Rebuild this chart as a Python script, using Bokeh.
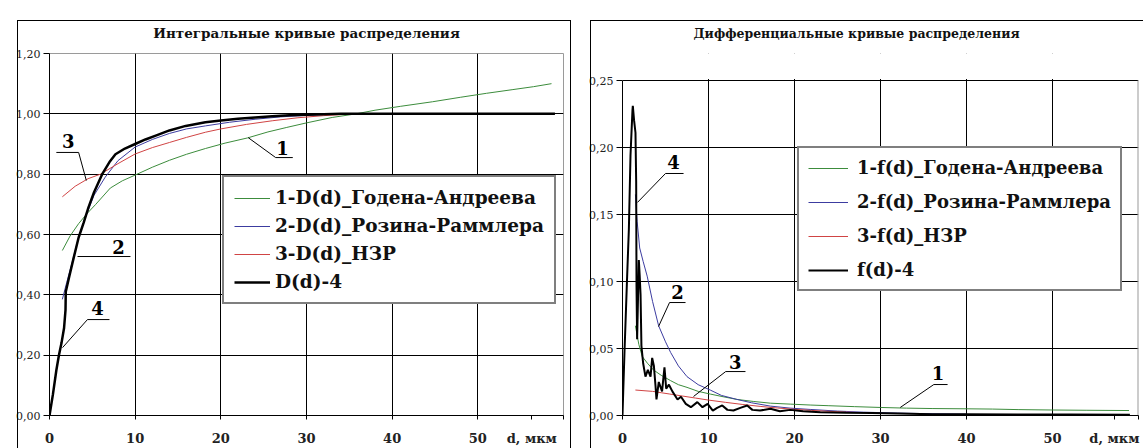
from bokeh.plotting import figure
from bokeh.models import Legend, LegendItem, BoxAnnotation, FixedTicker, Range1d, Div
from bokeh.layouts import row
from bokeh.embed import file_html
from bokeh.resources import INLINE
from bokeh.core.properties import value

# ---------------- texts / ticks ----------------
TITLE_L = "Интегральные кривые распределения"
TITLE_R = "Дифференциальные кривые распределения"
X_LABEL = "d, мкм"

xl_ticks = [0, 10, 20, 30, 40, 50, 56.3, 60]
xr_ticks = [0, 10, 20, 30, 40, 50, 57.2, 60]
x_tick_labels = ["0", "10", "20", "30", "40", "50", X_LABEL, ""]
x_grid = [10, 20, 30, 40, 50]

yl_ticks = [0.0, 0.2, 0.4, 0.6, 0.8, 1.0, 1.2]
yl_tick_labels = ["0,00", "0,20", "0,40", "0,60", "0,80", "1,00", "1,20"]
yr_ticks = [0.0, 0.05, 0.1, 0.15, 0.2, 0.25]
yr_tick_labels = ["0,00", "0,05", "0,10", "0,15", "0,20", "0,25"]

names_L = ["1-D(d)_Годена-Андреева", "2-D(d)_Розина-Раммлера", "3-D(d)_НЗР", "D(d)-4"]
names_R = ["1-f(d)_Годена-Андреева", "2-f(d)_Розина-Раммлера", "3-f(d)_НЗР", "f(d)-4"]

# ---------------- integral curves D(d) ----------------
D1_x = [1.5, 2.4, 3.4, 4.4, 5.4, 7.1, 8.5, 10, 12, 14, 16, 18.2, 20.5, 23.1, 25.5, 27.7, 30, 33,
        35.8, 38, 41, 44.7, 48, 51, 54, 56.5, 58.6]
D1_y = [0.547, 0.595, 0.636, 0.67, 0.70, 0.754, 0.778, 0.797, 0.823, 0.846, 0.866, 0.885, 0.903,
        0.92, 0.94, 0.955, 0.97, 0.988, 1.0, 1.012, 1.025, 1.04, 1.055, 1.068, 1.08, 1.09, 1.10]

D2_x = [1.5, 2.0, 2.6, 3.3, 4.2, 5.2, 6.5, 8, 10, 12, 14, 16, 18.2, 21, 24, 27, 30, 33, 36, 40]
D2_y = [0.385, 0.44, 0.503, 0.58, 0.657, 0.73, 0.79, 0.845, 0.89, 0.915, 0.935, 0.95, 0.96,
        0.972, 0.982, 0.99, 0.995, 0.998, 1.0, 1.0]

D3_x = [1.5, 3, 4.5, 5.95, 8, 10, 12, 14, 16, 18.2, 20, 23, 26, 29, 32, 35, 38]
D3_y = [0.725, 0.76, 0.785, 0.80, 0.835, 0.867, 0.888, 0.905, 0.922, 0.939, 0.95, 0.965, 0.977,
        0.987, 0.994, 0.999, 1.0]

D4_x = [0, 0.4, 0.8, 1.1, 1.4, 1.7, 1.87, 1.9, 2.3, 2.8, 3.4, 4.0, 4.55, 5.2, 6.15, 7.0, 7.7, 8.8,
        10, 11.2, 12.4, 14, 15.9, 18.2, 20, 22, 24, 26, 28, 30, 32, 34, 40, 50, 59]
D4_y = [0, 0.07, 0.15, 0.2, 0.24, 0.29, 0.35, 0.41, 0.46, 0.52, 0.59, 0.64, 0.69, 0.74, 0.80, 0.84,
        0.866, 0.885, 0.90, 0.915, 0.928, 0.945, 0.96, 0.972, 0.978, 0.984, 0.988, 0.992, 0.995,
        0.997, 0.999, 1.0, 1.0, 1.0, 1.0]

# ---------------- differential curves f(d) ----------------
F1_x = [1.5, 1.9, 2.3, 2.9, 3.6, 4.5, 5.6, 6.5, 7.5, 8.8, 10.2, 11.7, 13.3, 15.2, 17.2, 19.5, 21.9,
        24, 27, 30, 33, 36, 40, 43, 46, 50, 54, 58.9]
F1_y = [0.067, 0.053, 0.044, 0.039, 0.034, 0.030, 0.026, 0.023, 0.021, 0.018, 0.016, 0.014, 0.012,
        0.0105, 0.0092, 0.0085, 0.0078, 0.0073, 0.0066, 0.006, 0.0055, 0.0052, 0.005, 0.0048,
        0.0044, 0.0041, 0.0039, 0.0037]

F2_x = [1.5, 1.7, 2.0, 2.4, 2.87, 3.5, 4.2, 5.0, 5.6, 6.5, 7.5, 8.8, 10.2, 11.5, 13.3, 15, 17.2,
        19.5, 21.9, 25, 28, 32, 36, 40]
F2_y = [0.165, 0.145, 0.125, 0.115, 0.104, 0.085, 0.067, 0.055, 0.047, 0.037, 0.029, 0.023, 0.019,
        0.015, 0.012, 0.0095, 0.007, 0.0055, 0.0045, 0.0033, 0.0025, 0.0018, 0.0013, 0.001]

F3_x = [1.5, 2.5, 3.5, 4.5, 5.5, 7, 8.5, 10, 12, 14, 16, 18, 20, 22, 24, 26, 28.6]
F3_y = [0.019, 0.0185, 0.018, 0.017, 0.016, 0.0145, 0.013, 0.0115, 0.0098, 0.0082, 0.0068, 0.0056,
        0.0046, 0.0038, 0.0031, 0.0025, 0.002]

F4_x = [0, 0.08, 0.23, 0.54, 0.74, 0.93, 1.16, 1.2, 1.35, 1.51, 1.59, 1.63, 1.7, 1.9, 2.0, 2.1, 2.2,
        2.4, 2.67, 2.95, 3.26, 3.45, 3.65, 3.84, 3.95, 4.22, 4.6, 4.88, 5.08, 5.4, 5.8, 6.4, 6.8,
        7.36, 7.95, 8.7, 9.3, 9.9, 10.5, 11.0, 11.6, 12.2, 12.9, 13.7, 14.5, 15.1, 16, 17.2, 18.3,
        19.5, 21, 23, 26, 29, 32, 36, 40, 46, 52, 59]
F4_y = [0, 0.017, 0.047, 0.104, 0.139, 0.194, 0.228, 0.231, 0.22, 0.211, 0.174, 0.0965, 0.057,
        0.116, 0.104, 0.09, 0.052, 0.039, 0.029, 0.034, 0.029, 0.043, 0.037, 0.022, 0.012, 0.025,
        0.018, 0.036, 0.020, 0.023, 0.018, 0.012, 0.014, 0.0087, 0.0062, 0.010, 0.0062, 0.0087,
        0.0037, 0.0057, 0.0075, 0.0042, 0.0037, 0.0057, 0.0075, 0.0042, 0.0037, 0.0050, 0.0032,
        0.0042, 0.0032, 0.0025, 0.002, 0.0018, 0.0015, 0.001, 0.001, 0.0008, 0.0008, 0.0005]

# ---------------- curve-number call-outs ----------------
annL_text = ["1", "2", "3", "4"]
annL_x = [27.2, 8.05, 2.2, 5.6]
annL_y = [0.888, 0.557, 0.911, 0.355]
segL_x0 = [26.4, 26.4, 3.27, 0.8, 3.4, 4.43, 4.43]
segL_y0 = [0.855, 0.855, 0.527, 0.872, 0.872, 0.318, 0.318]
segL_x1 = [28.4, 23.2, 9.45, 3.4, 4.3, 7.0, 1.52]
segL_y1 = [0.855, 0.921, 0.527, 0.872, 0.779, 0.318, 0.225]

annR_text = ["4", "2", "3", "1"]
annR_x = [5.93, 6.4, 13.1, 36.7]
annR_y = [0.189, 0.0918, 0.0396, 0.032]
segR_x0 = [5.0, 5.0, 5.47, 5.47, 12.0, 12.0, 36.2, 36.2]
segR_y0 = [0.1806, 0.1806, 0.0843, 0.0843, 0.0328, 0.0328, 0.0231, 0.0231]
segR_x1 = [7.1, 1.74, 7.33, 4.19, 14.3, 8.26, 37.8, 32.3]
segR_y1 = [0.1806, 0.159, 0.0843, 0.0664, 0.0328, 0.0142, 0.0231, 0.006]

# ---------------- styling ----------------
FONT = "DejaVu Serif"
GREEN = "#3c8c3c"
BLUE = "#3c3ca0"
RED = "#d04444"
BLACK = "#000000"
EDGE = "#9a9a9a"
H = 448


def make_fig(width, mb_left, mb_right, y_end, y_ticks, y_labels, x_ticks, title, title_align,
             title_offset, title_size):
    p = figure(width=width, height=H, x_range=Range1d(0, 60), y_range=Range1d(0, y_end),
               output_backend="svg", toolbar_location=None,
               min_border_left=mb_left, min_border_right=mb_right,
               min_border_top=53, min_border_bottom=33,
               background_fill_color="white", border_fill_color="white")
    p.outline_line_color = EDGE
    p.outline_line_width = 1

    p.title.text = title
    p.title.align = title_align
    p.title.offset = title_offset
    p.title.text_font = FONT
    p.title.text_font_style = "bold"
    p.title.text_font_size = title_size
    p.title.text_color = "#111111"
    p.title.standoff = 25

    xa = p.xaxis[0]
    xa.ticker = FixedTicker(ticks=x_ticks)
    xa.major_label_overrides = dict(zip(x_ticks, x_tick_labels))
    xa.major_label_text_font = FONT
    xa.major_label_text_font_style = "bold"
    xa.major_label_text_font_size = "13px"
    xa.major_label_text_color = "#222222"
    xa.major_label_standoff = 11
    xa.major_tick_out = 4
    xa.major_tick_in = 0
    xa.minor_tick_line_color = None
    xa.axis_line_color = BLACK
    xa.major_tick_line_color = BLACK

    ya = p.yaxis[0]
    ya.ticker = FixedTicker(ticks=y_ticks)
    ya.major_label_overrides = dict(zip(y_ticks, y_labels))
    ya.major_label_text_font = FONT
    ya.major_label_text_font_size = "11px"
    ya.major_label_text_color = "#222222"
    ya.major_label_standoff = 3
    ya.major_tick_out = 6
    ya.major_tick_in = 0
    ya.minor_tick_line_color = None
    ya.axis_line_color = BLACK
    ya.major_tick_line_color = BLACK
    ya.bounds = (y_ticks[0], y_ticks[-1])

    p.xgrid[0].ticker = FixedTicker(ticks=x_grid)
    p.ygrid[0].ticker = FixedTicker(ticks=y_ticks[1:])
    for g in (p.xgrid[0], p.ygrid[0]):
        g.grid_line_color = BLACK
        g.grid_line_width = 1
        g.grid_line_alpha = 1.0
    return p


def decorate(p, names, rends, leg_loc, leg_font, leg_pad, leg_spacing, glyph_w, standoff,
             ann_x, ann_y, ann_text, s_x0, s_y0, s_x1, s_y1):
    p.segment(s_x0, s_y0, s_x1, s_y1, line_color=BLACK, line_width=1)
    p.text(ann_x, ann_y, text=ann_text, text_align="center", text_baseline="middle",
           text_font=value(FONT), text_font_style="bold", text_font_size="18px",
           text_color=BLACK)
    leg = Legend(items=[LegendItem(label=n, renderers=[r]) for n, r in zip(names, rends)],
                 location=leg_loc)
    leg.border_line_color = BLACK
    leg.border_line_width = 2
    leg.background_fill_color = "white"
    leg.background_fill_alpha = 1.0
    leg.label_text_font = FONT
    leg.label_text_font_style = "bold"
    leg.label_text_font_size = leg_font
    leg.label_text_color = "#111111"
    leg.padding = leg_pad
    leg.spacing = leg_spacing
    leg.label_height = 20
    leg.glyph_height = 20
    leg.glyph_width = glyph_w
    leg.label_standoff = standoff
    leg.margin = 0
    p.add_layout(leg)


# ---------------- left chart ----------------
pL = make_fig(575, 49, 12, 1.2, yl_ticks, yl_tick_labels, xl_ticks, TITLE_L, "center", 0,
              "13.5px")
rL1 = pL.line(D1_x, D1_y, line_color=GREEN, line_width=1)
rL2 = pL.line(D2_x, D2_y, line_color=BLUE, line_width=1)
rL3 = pL.line(D3_x, D3_y, line_color=RED, line_width=1)
rL4 = pL.line(D4_x, D4_y, line_color=BLACK, line_width=2.5)
decorate(pL, names_L, [rL1, rL2, rL3, rL4], (173, 111), "18.5px", 10, 7, 36, 5,
         annL_x, annL_y, annL_text, segL_x0, segL_y0, segL_x1, segL_y1)

# ---------------- right chart ----------------
# frame shares the left chart's top; the band above 0.25 is left blank
yr_end = 0.25 * 362 / 335
pR = make_fig(568, 47, 5, yr_end, yr_ticks, yr_tick_labels, xr_ticks, TITLE_R, "left", 71,
              "12.5px")
pR.outline_line_color = None
# plot-area right edge (x = 60) up to the 0.25 line
pR.segment([xr_ticks[-1]], [yr_ticks[0]], [xr_ticks[-1]], [yr_ticks[-1]],
           line_color=EDGE, line_width=2)
rR1 = pR.line(F1_x, F1_y, line_color=GREEN, line_width=1)
rR2 = pR.line(F2_x, F2_y, line_color=BLUE, line_width=1)
rR3 = pR.line(F3_x, F3_y, line_color=RED, line_width=1)
rR4 = pR.line(F4_x, F4_y, line_color=BLACK, line_width=2)
decorate(pR, names_R, [rR1, rR2, rR3, rR4], (175, 124), "18px", 9, 13, 40, 9,
         annR_x, annR_y, annR_text, segR_x0, segR_y0, segR_x1, segR_y1)
pR.add_layout(BoxAnnotation(bottom=yr_ticks[-1] * 1.0045, fill_color="white", fill_alpha=1.0,
                            line_alpha=0))

# outer chart frames
frameL = Div(text="", styles={"position": "absolute", "left": "12px", "top": "15px",
                              "width": "554px", "height": "440px", "box-sizing": "border-box",
                              "border-left": "1px solid black", "border-top": "1px solid black",
                              "border-right": "1px solid black", "pointer-events": "none",
                              "background": "transparent"})
frameR = Div(text="", styles={"position": "absolute", "left": "585px", "top": "15px",
                              "width": "560px", "height": "440px", "box-sizing": "border-box",
                              "border-left": "1px solid black", "border-top": "1px solid black",
                              "pointer-events": "none", "background": "transparent"})

layout = row(pL, pR, frameL, frameR)
open("out.html", "w").write(file_html(layout, INLINE))
